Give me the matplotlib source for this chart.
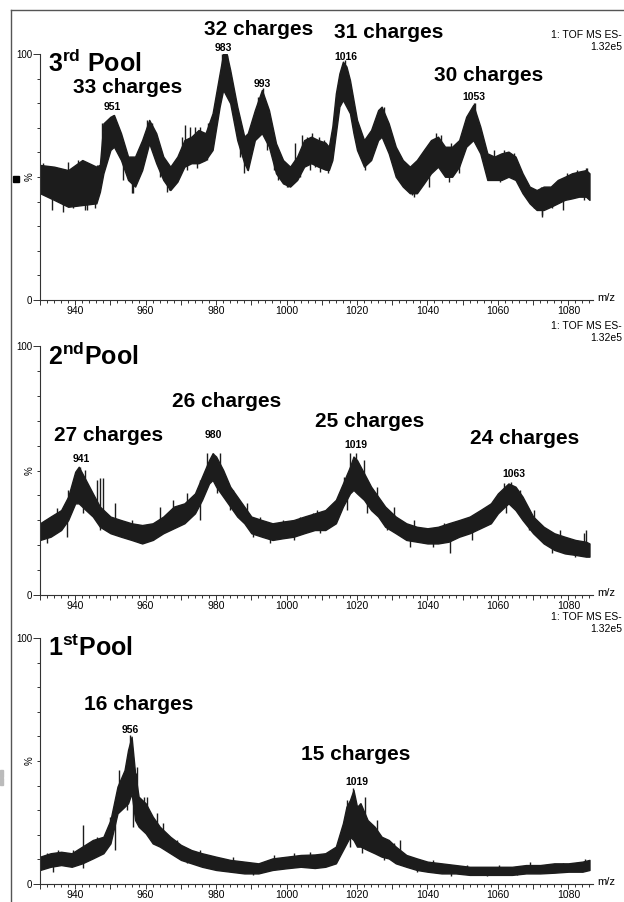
import numpy as np
import matplotlib.pyplot as plt
from matplotlib.ticker import FixedLocator, MultipleLocator, FuncFormatter
from matplotlib.patches import Rectangle
from matplotlib.lines import Line2D

plt.rcParams['font.family'] = ['Liberation Sans', 'DejaVu Sans']
plt.rcParams['mathtext.fontset'] = 'custom'
plt.rcParams['mathtext.rm'] = 'Liberation Sans'
plt.rcParams['mathtext.bf'] = 'Liberation Sans:bold'

# ---- 3rd pool: noise band (upper / lower edge, % intensity)
mz3 = [930, 934, 938, 942, 946, 947, 948, 950, 951, 953, 955, 957, 959, 961, 963,
       965, 967, 969, 971, 973, 975, 977, 979, 981, 982, 983, 984, 986, 988, 989,
       991, 993, 995, 997, 999, 1001, 1003, 1005, 1007, 1009, 1011, 1012, 1013,
       1014, 1015, 1016, 1017, 1018, 1019, 1020, 1022, 1024, 1026, 1027, 1029,
       1031, 1033, 1035, 1037, 1039, 1041, 1043, 1045, 1047, 1049, 1051, 1053,
       1055, 1057, 1059, 1061, 1063, 1065, 1067, 1069, 1071, 1073, 1075, 1077,
       1079, 1081, 1083, 1085, 1086]
top3 = [54.9, 54.2, 52.8, 56.9, 54.2, 55.0, 71.8, 74.5, 75.2, 67.8, 58.3, 58.3, 65.0,
        73.2, 67.8, 58.3, 54.2, 58.3, 65.0, 66.4, 69.1, 67.8, 75.9, 92.1, 100, 100,
        93.5, 78.6, 66.4, 67.8, 77.2, 85.4, 77.2, 63.7, 56.9, 54.2, 58.3, 65.0, 66.4,
        65.0, 64.0, 62.3, 70.5, 84.0, 92.1, 96.9, 94.9, 89.4, 81.3, 73.2, 65.0, 69.1,
        77.2, 78.6, 71.8, 62.3, 56.9, 54.2, 56.9, 61.0, 65.0, 66.4, 62.3, 62.3, 65.0,
        74.5, 79.3, 70.5, 59.6, 58.3, 59.6, 60.3, 58.3, 51.5, 46.1, 44.7, 46.1, 46.1,
        48.8, 50.1, 51.5, 52.2, 52.8, 51.5]
bot3 = [43.4, 40.7, 37.9, 38.6, 39.3, 44.0, 51.5, 61.0, 62.3, 56.9, 48.8, 46.1, 52.8,
        63.7, 55.6, 48.8, 44.7, 48.1, 54.2, 55.6, 55.6, 56.9, 61.0, 78.6, 85.4, 82.7,
        80.0, 65.0, 55.6, 52.8, 65.0, 67.8, 62.3, 51.5, 47.4, 46.1, 48.8, 54.2, 55.6,
        54.2, 53.0, 52.8, 56.9, 67.8, 78.6, 81.3, 78.6, 75.9, 67.8, 61.0, 54.2, 56.9,
        65.0, 66.4, 59.6, 50.1, 46.1, 43.4, 43.4, 47.4, 51.5, 54.2, 50.1, 50.1, 54.2,
        62.3, 65.0, 59.6, 48.8, 48.8, 48.8, 50.1, 48.8, 43.4, 39.3, 36.6, 36.6, 37.9,
        39.3, 40.7, 41.3, 42.0, 42.0, 40.7]
# noise spikes: tip position / tip height
spike_mz3 = [930.9, 933.8, 938.0, 940.9, 943.7, 946.1, 933.3, 936.6, 939.5, 943.3,
             945.6, 942.8, 947.5, 950.8, 953.7, 956.0, 956.5, 960.3, 961.7, 964.1,
             966.0, 966.5, 970.2, 971.2, 972.6, 974.0, 975.5, 977.8, 971.7, 974.5,
             977.3, 981.6, 983.0, 984.9, 986.8, 987.8, 988.7, 992.0, 993.4, 994.4,
             996.3, 997.7, 1000.0, 1000.5, 1002.4, 1003.9, 1004.3, 1005.8, 1007.2,
             1008.1, 1009.1, 1006.7, 1009.5, 1010.5, 1011.9, 1016.6, 1022.3, 1027.6,
             1029.9, 1032.8, 1035.6, 1036.1, 1036.6, 1040.4, 1040.9, 1042.5, 1043.8,
             1046.1, 1046.7, 1049.0, 1053.1, 1053.6, 1056.4, 1058.8, 1060.7, 1061.6,
             1064.5, 1066.4, 1070.2, 1072.1, 1072.5, 1072.6, 1075.4, 1075.9, 1078.6,
             1079.7, 1082.5, 1084.4, 1085.0, 1085.3]
spike_v3 = [55.6, 54.2, 56.2, 56.9, 55.6, 55.0, 36.6, 35.8, 37.3, 36.6,
            37.3, 36.6, 71.8, 75.2, 48.8, 43.4, 43.4, 73.2, 71.8, 50.0,
            44.0, 44.7, 66.4, 71.0, 70.5, 70.5, 70.5, 71.8, 52.8, 53.5,
            56.9, 100, 99.6, 77.2, 58.3, 51.5, 52.8, 82.7, 86.0, 61.0,
            52.8, 48.8, 46.0, 46.1, 63.7, 50.1, 67.0, 66.4, 67.8,
            54.2, 66.4, 52.8, 52.2, 65.0, 51.5, 97.6, 53.0, 78.6,
            56.9, 48.8, 42.7, 42.0, 55.6, 46.0, 63.7, 67.8, 67.0,
            48.1, 63.7, 51.5, 80.0, 80.0, 61.0, 61.0, 48.1, 61.0,
            59.6, 48.8, 37.3, 46.0, 34.6, 33.9, 37.3, 46.7, 36.6,
            51.5, 52.8, 40.7, 53.5, 53.5]

# ---- 2nd pool
mz2 = [930, 933, 936, 938, 940, 941, 943, 945, 947, 950, 953, 956, 959, 962, 965,
       968, 971, 974, 976, 978, 979, 980, 982, 984, 986, 988, 990, 993, 996, 999,
       1002, 1005, 1008, 1011, 1014, 1016, 1018, 1019, 1020, 1022, 1024, 1026, 1028,
       1031, 1034, 1037, 1040, 1043, 1046, 1049, 1052, 1055, 1058, 1060, 1062, 1063,
       1065, 1067, 1070, 1073, 1076, 1079, 1082, 1085, 1086]
top2 = [28.8, 31.5, 34.1, 39.5, 49.5, 51.5, 46.2, 40.8, 35.5, 31.5, 30.1, 28.8, 28.1,
        28.8, 31.5, 35.5, 36.8, 40.8, 47.5, 54.2, 56.9, 55.6, 50.2, 43.5, 39.5, 35.5,
        31.5, 30.1, 28.8, 29.5, 30.1, 31.5, 32.8, 34.1, 38.2, 44.8, 51.5, 55.6, 54.2,
        48.9, 43.5, 39.5, 35.5, 31.5, 28.8, 27.4, 26.8, 27.4, 28.8, 30.1, 31.5, 34.1,
        36.8, 40.8, 43.5, 44.8, 43.5, 39.5, 31.5, 27.4, 24.8, 23.4, 22.1, 21.4, 20.7]
bot2 = [22.1, 23.4, 26.1, 30.1, 36.8, 36.8, 34.1, 31.5, 27.4, 24.8, 23.4, 22.1, 20.7,
        22.1, 24.8, 26.8, 28.8, 32.8, 38.2, 44.8, 46.2, 43.5, 39.5, 35.5, 31.5, 28.8,
        24.8, 23.4, 22.1, 22.8, 23.4, 24.8, 26.1, 26.1, 28.8, 35.5, 40.8, 42.2, 40.8,
        38.2, 34.1, 31.5, 27.4, 24.8, 22.1, 21.4, 20.7, 20.7, 21.4, 23.4, 24.8, 26.8,
        28.8, 32.8, 35.5, 36.8, 34.1, 30.1, 24.8, 20.7, 18.1, 16.7, 16.1, 15.4, 15.4]
spike_mz2 = [931.4, 934.7, 938.0, 942.8, 946.1, 948.0, 951.3, 956.0, 964.1, 967.9,
             971.7, 975.5, 977.3, 981.1, 984.9, 988.7, 992.5, 999.1, 1003.9, 1008.6,
             931.9, 937.6, 942.3, 947.0, 958.4, 962.2, 975.5, 980.2, 984.0, 990.6,
             995.3, 1002.0, 941.4, 947.0, 979.2, 1007.6, 1013.3, 1016.2, 1018.0,
             1019.6, 1021.9, 1025.6, 1030.4, 1036.1, 1044.6, 1052.2, 1057.9, 1061.7,
             1063.6, 1066.4, 1070.2, 1077.7, 1084.4, 1085.0, 1009.5, 1017.1, 1022.8,
             1028.5, 1035.1, 1041.7, 1046.5, 1052.7, 1062.2, 1068.8, 1075.4, 1082.0]
spike_v2 = [30.1, 34.8, 42.2, 50.2, 46.2, 46.9, 36.8, 30.1, 35.5, 38.2,
            40.8, 46.2, 56.9, 56.9, 42.2, 36.8, 31.5, 30.1, 31.5, 34.1,
            20.7, 23.4, 32.8, 26.1, 20.7, 22.1, 30.1, 40.8, 34.1, 23.4,
            20.7, 22.1, 51.5, 46.9, 56.9, 32.8, 35.5, 47.5, 56.9,
            56.9, 54.2, 43.5, 35.5, 30.1, 28.8, 31.5, 36.8, 44.8,
            45.5, 42.2, 34.1, 26.1, 24.8, 26.1, 24.8, 34.1, 32.8,
            26.1, 19.4, 19.4, 16.7, 22.1, 32.8, 26.1, 16.7, 15.4]

# ---- 1st pool
mz1 = [930, 933, 936, 939, 942, 945, 948, 950, 952, 954, 955, 956, 957, 958, 960,
       962, 964, 967, 970, 973, 976, 980, 984, 988, 992, 996, 1000, 1004, 1008, 1011,
       1014, 1016, 1017, 1018, 1019, 1020, 1021, 1023, 1025, 1027, 1029, 1031, 1034,
       1037, 1040, 1044, 1048, 1052, 1056, 1060, 1064, 1068, 1072, 1076, 1080, 1084,
       1086]
top1 = [11.1, 12.5, 13.1, 12.5, 15.2, 17.9, 19.2, 26.0, 39.6, 46.3, 54.5, 59.9, 45.0,
        35.5, 32.8, 27.4, 23.3, 19.2, 15.9, 13.8, 12.5, 11.1, 9.8, 9.1, 8.4, 10.4, 11.1,
        11.8, 12.0, 12.5, 15.2, 24.7, 31.4, 34.1, 38.2, 31.4, 32.8, 26.0, 23.3, 19.2,
        17.9, 15.2, 11.8, 10.4, 9.1, 8.4, 7.7, 7.0, 7.0, 7.0, 7.0, 7.7, 7.7, 8.4, 8.4,
        9.1, 9.8]
bot1 = [5.7, 7.0, 7.7, 7.0, 8.4, 10.4, 12.5, 16.5, 28.7, 31.4, 32.8, 36.9, 26.0,
        23.3, 20.6, 16.5, 15.2, 12.5, 9.8, 8.4, 7.0, 5.7, 5.0, 4.3, 4.3, 5.7, 6.4, 7.0,
        6.5, 7.0, 8.4, 13.8, 16.5, 19.2, 17.9, 15.2, 15.2, 13.8, 12.5, 11.1, 10.4, 8.4,
        7.0, 5.7, 5.0, 4.3, 4.3, 3.7, 3.7, 3.7, 3.7, 4.3, 4.3, 4.6, 5.0, 5.0, 5.7]
spike_mz1 = [931.9, 935.2, 939.5, 942.1, 946.1, 949.9, 952.3, 955.6, 957.3, 957.5,
             959.4, 960.5, 963.1, 965.0, 968.8, 975.5, 984.9, 996.3, 1002.0, 1006.7,
             933.8, 942.3, 951.3, 954.6, 956.5, 961.3, 971.7, 990.6,
             1013.3, 1017.1, 1018.9, 1020.8, 1022.3, 1025.6, 1030.4, 1032.3, 1041.7,
             1051.2, 1060.2, 1069.1, 1078.6, 1084.7, 1018.0, 1021.4, 1027.6, 1037.1,
             1046.6, 1057.0, 1065.5]
spike_v1 = [12.5, 13.8, 13.8, 24.0, 19.2, 27.4, 46.3, 60.6, 45.0, 47.7,
            35.5, 35.5, 28.7, 24.7, 17.9, 13.8, 11.1, 11.8, 12.5, 13.1,
            5.0, 6.4, 13.8, 30.1, 23.3, 19.2, 8.4, 3.7,
            13.8, 34.1, 38.9, 32.8, 35.5, 26.0, 16.5, 17.9, 9.8,
            7.7, 7.7, 9.1, 8.4, 10.0, 15.2, 12.5, 9.8, 5.0,
            3.3, 3.3, 3.7]

# ---- labels: (text, m/z, % height)
charges3 = [("33 charges", 955.0, 84.1), ("32 charges", 992.1, 107.7),
            ("31 charges", 1028.9, 106.5), ("30 charges", 1057.3, 89.0)]
peaks3 = [("951", 950.5, 77.2), ("983", 982.0, 101.2), ("993", 993.1, 86.6),
          ("1016", 1016.9, 97.6), ("1053", 1053.3, 81.3)]
charges2 = [("27 charges", 949.6, 61.8), ("26 charges", 983.1, 75.5),
            ("25 charges", 1023.5, 67.5), ("24 charges", 1067.5, 60.6)]
peaks2 = [("941", 941.6, 53.4), ("980", 979.1, 63.1), ("1019", 1019.8, 59.0),
          ("1063", 1064.4, 47.4)]
charges1 = [("16 charges", 958.1, 70.7), ("15 charges", 1019.5, 50.4)]
peaks1 = [("956", 955.6, 61.4), ("1019", 1020.1, 40.2)]

W, H = 624, 902
fig = plt.figure(figsize=(W / 100, H / 100), dpi=100)
ink = '#1c1c1c'


def panel(top_px, bot_px, mz, hi, lo, smz, sv, title, charges, peaks, tof_y):
    ax = fig.add_axes([40 / W, 1 - bot_px / H, 553 / W, (bot_px - top_px) / H])
    ax.set_xlim(930, 1087)
    ax.set_ylim(0, 100)
    ax.fill_between(mz, lo, hi, color=ink, lw=1.0, edgecolor=ink)
    mid = (np.array(hi) + np.array(lo)) / 2
    ax.vlines(smz, np.interp(smz, mz, mid), sv, color=ink, lw=1.0)

    for s in ['top', 'right']:
        ax.spines[s].set_visible(False)
    for s in ['left', 'bottom']:
        ax.spines[s].set_color('#333333')
        ax.spines[s].set_linewidth(0.8)

    ax.set_yticks([0, 100])
    ax.set_yticklabels(['0', '100'])
    ax.yaxis.set_minor_locator(FixedLocator(range(10, 100, 10)))
    ax.xaxis.set_major_locator(FixedLocator(range(930, 1090, 10)))
    ax.xaxis.set_major_formatter(FuncFormatter(lambda v, p: str(int(v)) if v % 20 == 0 else ''))
    ax.xaxis.set_minor_locator(MultipleLocator(2))
    ax.tick_params(axis='y', which='major', length=5, width=0.7, pad=0.5, labelsize=7, color='#333333')
    ax.tick_params(axis='y', which='minor', length=2.2, width=0.7, color='#333333')
    ax.tick_params(axis='x', which='major', length=3.5, width=0.7, pad=1, labelsize=7.5, color='#333333')
    ax.tick_params(axis='x', which='minor', length=2.2, width=0.7, color='#333333')

    ax.text(-0.018, 0.5, '%', transform=ax.transAxes, rotation=90, ha='center', va='center', fontsize=7)
    ax.text(1.008, 0.01, 'm/z', transform=ax.transAxes, ha='left', va='center', fontsize=8)

    ax.text(932.3, 92.5, title, ha='left', va='baseline', fontsize=18, fontweight='bold')
    for s, x, y in charges:
        ax.text(x, y, s, ha='center', va='baseline', fontsize=15, fontweight='bold')
    for s, x, y in peaks:
        ax.text(x, y, s, ha='center', va='baseline', fontsize=7.5, fontweight='bold')

    fig.text(622 / W, 1 - tof_y / H, '1: TOF MS ES-', ha='right', va='center', fontsize=7.5)
    fig.text(622 / W, 1 - (tof_y + 12) / H, '1.32e5', ha='right', va='center', fontsize=7.5)
    return ax


panel(54, 300, mz3, top3, bot3, spike_mz3, spike_v3, r'$\mathbf{3}^{\mathbf{rd}}$ Pool',
      charges3, peaks3, 35)
panel(346, 595, mz2, top2, bot2, spike_mz2, spike_v2, r'$\mathbf{2}^{\mathbf{nd}}$Pool',
      charges2, peaks2, 326)
panel(638, 884, mz1, top1, bot1, spike_mz1, spike_v1, r'$\mathbf{1}^{\mathbf{st}}$Pool',
      charges1, peaks1, 617)

# page frame and marks at the left edge
fig.add_artist(Line2D([11 / W, 11 / W], [0, 1 - 10 / H], color='#555555', lw=1))
fig.add_artist(Line2D([11 / W, 1], [1 - 10 / H, 1 - 10 / H], color='#555555', lw=1))
fig.add_artist(Rectangle((13 / W, 1 - 182 / H), 6 / W, 6 / H, color='black'))
fig.add_artist(Rectangle((0, 1 - 777 / H), 3 / W, 7 / H, color='#bbbbbb'))
fig.add_artist(Rectangle((0, 1 - 785 / H), 3 / W, 7 / H, color='#bbbbbb'))

fig.savefig('out.png', dpi=100)
